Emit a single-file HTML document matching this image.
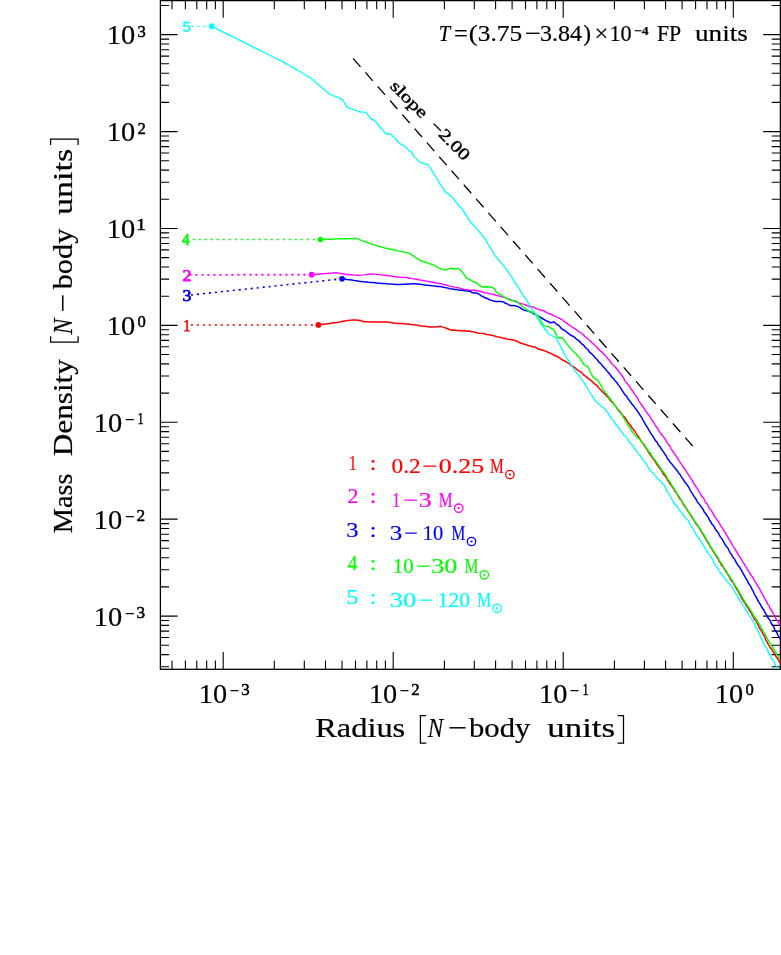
<!DOCTYPE html>
<html><head><meta charset="utf-8"><title>Mass density profile</title>
<style>html,body{margin:0;padding:0;background:#fff;}body{width:781px;height:955px;overflow:hidden;font-family:"Liberation Serif",serif;}svg{display:block;will-change:transform;}</style></head>
<body>
<svg width="781" height="955" viewBox="0 0 781 955">
<rect x="0" y="0" width="781" height="955" fill="#fff"/>
<defs><clipPath id="cp"><rect x="160.4" y="0.6" width="620.0" height="668.7"/></clipPath></defs>
<g stroke="#000" stroke-width="1.1" fill="none">
<rect x="160.4" y="0.6" width="620.0" height="668.7" stroke-width="1.3"/>
<path d="M172.0,669.3 v-8.7 M172.0,0.6 v8.7"/>
<path d="M185.4,669.3 v-8.7 M185.4,0.6 v8.7"/>
<path d="M196.8,669.3 v-8.7 M196.8,0.6 v8.7"/>
<path d="M206.7,669.3 v-8.7 M206.7,0.6 v8.7"/>
<path d="M215.4,669.3 v-8.7 M215.4,0.6 v8.7"/>
<path d="M223.2,669.3 v-17.2 M223.2,0.6 v17.2"/>
<path d="M274.3,669.3 v-8.7 M274.3,0.6 v8.7"/>
<path d="M304.3,669.3 v-8.7 M304.3,0.6 v8.7"/>
<path d="M325.5,669.3 v-8.7 M325.5,0.6 v8.7"/>
<path d="M342.0,669.3 v-8.7 M342.0,0.6 v8.7"/>
<path d="M355.5,669.3 v-8.7 M355.5,0.6 v8.7"/>
<path d="M366.9,669.3 v-8.7 M366.9,0.6 v8.7"/>
<path d="M376.7,669.3 v-8.7 M376.7,0.6 v8.7"/>
<path d="M385.4,669.3 v-8.7 M385.4,0.6 v8.7"/>
<path d="M393.2,669.3 v-17.2 M393.2,0.6 v17.2"/>
<path d="M444.4,669.3 v-8.7 M444.4,0.6 v8.7"/>
<path d="M474.3,669.3 v-8.7 M474.3,0.6 v8.7"/>
<path d="M495.6,669.3 v-8.7 M495.6,0.6 v8.7"/>
<path d="M512.1,669.3 v-8.7 M512.1,0.6 v8.7"/>
<path d="M525.5,669.3 v-8.7 M525.5,0.6 v8.7"/>
<path d="M536.9,669.3 v-8.7 M536.9,0.6 v8.7"/>
<path d="M546.8,669.3 v-8.7 M546.8,0.6 v8.7"/>
<path d="M555.5,669.3 v-8.7 M555.5,0.6 v8.7"/>
<path d="M563.2,669.3 v-17.2 M563.2,0.6 v17.2"/>
<path d="M614.4,669.3 v-8.7 M614.4,0.6 v8.7"/>
<path d="M644.4,669.3 v-8.7 M644.4,0.6 v8.7"/>
<path d="M665.6,669.3 v-8.7 M665.6,0.6 v8.7"/>
<path d="M682.1,669.3 v-8.7 M682.1,0.6 v8.7"/>
<path d="M695.6,669.3 v-8.7 M695.6,0.6 v8.7"/>
<path d="M707.0,669.3 v-8.7 M707.0,0.6 v8.7"/>
<path d="M716.8,669.3 v-8.7 M716.8,0.6 v8.7"/>
<path d="M725.5,669.3 v-8.7 M725.5,0.6 v8.7"/>
<path d="M733.3,669.3 v-17.2 M733.3,0.6 v17.2"/>
<path d="M160.4,666.7 h8.7 M780.4,666.7 h-8.7"/>
<path d="M160.4,654.6 h8.7 M780.4,654.6 h-8.7"/>
<path d="M160.4,645.2 h8.7 M780.4,645.2 h-8.7"/>
<path d="M160.4,637.5 h8.7 M780.4,637.5 h-8.7"/>
<path d="M160.4,631.1 h8.7 M780.4,631.1 h-8.7"/>
<path d="M160.4,625.4 h8.7 M780.4,625.4 h-8.7"/>
<path d="M160.4,620.5 h8.7 M780.4,620.5 h-8.7"/>
<path d="M160.4,616.1 h17.2 M780.4,616.1 h-17.2"/>
<path d="M160.4,586.9 h8.7 M780.4,586.9 h-8.7"/>
<path d="M160.4,569.8 h8.7 M780.4,569.8 h-8.7"/>
<path d="M160.4,557.7 h8.7 M780.4,557.7 h-8.7"/>
<path d="M160.4,548.3 h8.7 M780.4,548.3 h-8.7"/>
<path d="M160.4,540.6 h8.7 M780.4,540.6 h-8.7"/>
<path d="M160.4,534.2 h8.7 M780.4,534.2 h-8.7"/>
<path d="M160.4,528.5 h8.7 M780.4,528.5 h-8.7"/>
<path d="M160.4,523.6 h8.7 M780.4,523.6 h-8.7"/>
<path d="M160.4,519.1 h17.2 M780.4,519.1 h-17.2"/>
<path d="M160.4,490.0 h8.7 M780.4,490.0 h-8.7"/>
<path d="M160.4,472.9 h8.7 M780.4,472.9 h-8.7"/>
<path d="M160.4,460.8 h8.7 M780.4,460.8 h-8.7"/>
<path d="M160.4,451.4 h8.7 M780.4,451.4 h-8.7"/>
<path d="M160.4,443.7 h8.7 M780.4,443.7 h-8.7"/>
<path d="M160.4,437.3 h8.7 M780.4,437.3 h-8.7"/>
<path d="M160.4,431.6 h8.7 M780.4,431.6 h-8.7"/>
<path d="M160.4,426.7 h8.7 M780.4,426.7 h-8.7"/>
<path d="M160.4,422.2 h17.2 M780.4,422.2 h-17.2"/>
<path d="M160.4,393.1 h8.7 M780.4,393.1 h-8.7"/>
<path d="M160.4,376.0 h8.7 M780.4,376.0 h-8.7"/>
<path d="M160.4,363.9 h8.7 M780.4,363.9 h-8.7"/>
<path d="M160.4,354.5 h8.7 M780.4,354.5 h-8.7"/>
<path d="M160.4,346.8 h8.7 M780.4,346.8 h-8.7"/>
<path d="M160.4,340.4 h8.7 M780.4,340.4 h-8.7"/>
<path d="M160.4,334.7 h8.7 M780.4,334.7 h-8.7"/>
<path d="M160.4,329.8 h8.7 M780.4,329.8 h-8.7"/>
<path d="M160.4,325.4 h17.2 M780.4,325.4 h-17.2"/>
<path d="M160.4,296.2 h8.7 M780.4,296.2 h-8.7"/>
<path d="M160.4,279.1 h8.7 M780.4,279.1 h-8.7"/>
<path d="M160.4,267.0 h8.7 M780.4,267.0 h-8.7"/>
<path d="M160.4,257.6 h8.7 M780.4,257.6 h-8.7"/>
<path d="M160.4,249.9 h8.7 M780.4,249.9 h-8.7"/>
<path d="M160.4,243.5 h8.7 M780.4,243.5 h-8.7"/>
<path d="M160.4,237.8 h8.7 M780.4,237.8 h-8.7"/>
<path d="M160.4,232.9 h8.7 M780.4,232.9 h-8.7"/>
<path d="M160.4,228.5 h17.2 M780.4,228.5 h-17.2"/>
<path d="M160.4,199.3 h8.7 M780.4,199.3 h-8.7"/>
<path d="M160.4,182.2 h8.7 M780.4,182.2 h-8.7"/>
<path d="M160.4,170.1 h8.7 M780.4,170.1 h-8.7"/>
<path d="M160.4,160.7 h8.7 M780.4,160.7 h-8.7"/>
<path d="M160.4,153.0 h8.7 M780.4,153.0 h-8.7"/>
<path d="M160.4,146.6 h8.7 M780.4,146.6 h-8.7"/>
<path d="M160.4,140.9 h8.7 M780.4,140.9 h-8.7"/>
<path d="M160.4,136.0 h8.7 M780.4,136.0 h-8.7"/>
<path d="M160.4,131.6 h17.2 M780.4,131.6 h-17.2"/>
<path d="M160.4,102.4 h8.7 M780.4,102.4 h-8.7"/>
<path d="M160.4,85.3 h8.7 M780.4,85.3 h-8.7"/>
<path d="M160.4,73.2 h8.7 M780.4,73.2 h-8.7"/>
<path d="M160.4,63.8 h8.7 M780.4,63.8 h-8.7"/>
<path d="M160.4,56.1 h8.7 M780.4,56.1 h-8.7"/>
<path d="M160.4,49.7 h8.7 M780.4,49.7 h-8.7"/>
<path d="M160.4,44.0 h8.7 M780.4,44.0 h-8.7"/>
<path d="M160.4,39.1 h8.7 M780.4,39.1 h-8.7"/>
<path d="M160.4,34.6 h17.2 M780.4,34.6 h-17.2"/>
<path d="M160.4,5.5 h8.7 M780.4,5.5 h-8.7"/>
</g>
<g clip-path="url(#cp)" fill="none" stroke-linejoin="round" stroke-linecap="butt">
<path d="M318.4,324.9 L320.7,324.6 L323.0,324.3 L325.3,324.0 L327.6,323.7 L330.0,323.4 L332.3,323.1 L334.6,322.8 L336.9,322.5 L339.4,322.0 L342.0,321.4 L344.6,320.9 L347.1,320.4 L349.8,320.3 L352.6,320.1 L355.3,320.0 L357.9,320.2 L360.5,320.4 L363.5,321.8 L365.8,321.8 L368.0,321.8 L370.3,321.9 L372.5,321.9 L374.8,321.9 L377.1,321.9 L379.3,321.9 L381.6,322.0 L383.8,322.0 L386.1,322.0 L388.6,322.3 L391.0,322.6 L393.5,322.9 L395.9,323.2 L398.4,323.5 L400.9,323.6 L403.5,323.8 L406.1,324.0 L408.6,324.1 L411.2,324.5 L413.8,324.8 L416.3,325.1 L418.9,325.5 L421.4,325.9 L424.0,326.2 L426.6,326.6 L429.1,327.0 L431.6,326.9 L434.0,326.9 L436.5,326.8 L438.9,326.6 L441.4,326.6 L443.9,327.4 L446.4,328.2 L449.1,329.3 L451.6,330.2 L454.1,330.1 L456.9,330.4 L459.4,330.5 L461.8,330.9 L464.6,330.6 L467.0,331.3 L469.4,331.1 L472.1,331.7 L474.5,332.0 L476.9,332.7 L479.3,333.2 L481.6,333.5 L484.1,333.5 L486.7,334.5 L489.2,334.7 L491.7,335.2 L494.0,335.9 L496.7,336.8 L499.1,336.9 L501.5,337.8 L504.0,338.2 L506.0,338.8 L508.2,339.4 L510.7,339.4 L513.0,340.0 L515.0,340.5 L517.2,341.2 L519.3,342.5 L521.3,343.3 L523.6,343.9 L525.7,344.5 L528.1,345.5 L530.0,345.9 L532.5,346.7 L535.0,347.1 L537.6,348.5 L539.7,349.5 L542.3,350.0 L544.4,350.8 L546.4,351.4 L548.3,352.5 L550.6,353.3 L552.4,354.2 L554.6,355.5 L556.8,356.5 L558.7,357.4 L560.9,358.9 L563.0,360.3 L564.8,361.0 L566.9,362.3 L569.1,363.6 L570.8,365.6 L572.9,366.4 L575.1,367.9 L577.0,369.7 L579.2,371.1 L580.9,372.0 L582.7,373.7 L584.6,375.6 L586.3,376.6 L587.8,378.1 L589.9,379.7 L591.5,380.7 L593.4,382.8 L595.0,384.1 L596.8,385.6 L598.3,387.3 L600.1,389.2 L601.8,391.1 L603.8,393.0 L605.3,394.4 L607.1,396.4 L609.1,398.2 L610.4,400.6 L612.2,402.2 L614.0,404.3 L615.4,406.1 L617.3,408.4 L618.6,410.0 L620.0,411.6 L621.6,413.7 L623.1,416.1 L625.0,417.3 L626.3,419.6 L627.5,421.6 L628.8,423.5 L630.6,425.4 L631.9,427.7 L633.1,429.1 L634.6,430.9 L636.0,433.2 L637.1,434.9 L638.6,437.0 L640.0,439.1 L641.2,441.0 L642.4,442.8 L643.5,444.2 L644.5,446.1 L645.9,447.7 L647.3,449.7 L648.4,452.2 L649.9,454.0 L650.9,455.5 L652.2,457.8 L653.4,459.0 L654.7,460.9 L656.3,463.2 L657.5,465.3 L658.9,467.0 L660.1,468.8 L661.4,470.3 L662.7,472.9 L663.8,474.6 L665.2,476.0 L666.5,478.0 L667.5,480.4 L669.0,481.7 L669.9,483.9 L671.2,485.2 L672.7,487.8 L674.0,489.0 L675.1,491.6 L676.3,493.0 L677.6,494.8 L678.5,496.5 L680.1,499.2 L681.4,500.7 L682.6,502.6 L683.5,504.9 L684.8,506.3 L686.2,508.2 L687.3,510.2 L688.6,512.3 L690.0,513.8 L691.0,515.9 L692.5,518.0 L693.7,519.7 L694.8,521.7 L695.8,523.5 L697.1,525.3 L698.6,526.8 L699.7,528.8 L700.9,531.0 L702.2,533.2 L703.4,534.9 L704.7,537.1 L705.8,538.8 L706.9,540.9 L708.3,543.4 L709.6,545.3 L710.7,547.6 L712.0,549.4 L713.2,551.3 L714.5,553.3 L715.7,555.2 L717.1,557.2 L718.3,559.4 L719.2,561.5 L720.8,563.2 L721.6,565.4 L723.0,566.7 L724.2,568.6 L725.5,571.0 L726.8,572.6 L728.2,575.2 L729.3,576.6 L730.3,579.0 L731.9,581.2 L733.1,582.6 L734.2,584.7 L735.4,586.8 L736.8,589.4 L737.9,590.9 L739.1,593.4 L740.3,595.3 L741.4,598.0 L742.9,600.0 L744.0,602.0 L745.2,603.4 L746.4,605.9 L747.8,607.3 L749.0,609.8 L749.8,611.1 L751.3,613.0 L752.1,615.1 L753.7,617.2 L754.5,619.5 L756.0,620.8 L757.0,623.0 L758.2,625.2 L759.0,626.8 L760.3,629.5 L761.6,631.0 L762.6,633.6 L763.8,635.2 L764.9,637.3 L765.7,639.8 L767.1,641.9 L768.0,644.0 L769.1,645.7 L770.4,647.8 L771.6,649.3 L772.8,651.1 L774.1,653.2 L775.3,655.5 L776.5,657.2 L777.7,658.9 L778.9,660.7 L780.4,662.8 L781.7,665.1 L783.0,667.0" stroke="#ff0000" stroke-width="1.5"/>
<path d="M311.7,274.7 L313.9,274.5 L316.1,274.3 L318.3,274.2 L320.5,274.0 L322.7,273.8 L324.9,273.6 L327.1,273.4 L329.3,273.2 L331.5,273.1 L333.7,272.9 L335.9,272.7 L338.2,273.1 L340.5,273.5 L342.8,273.9 L345.1,274.3 L347.6,274.5 L350.0,274.7 L352.5,274.9 L354.9,275.1 L357.4,275.3 L360.4,275.1 L363.5,274.9 L366.2,274.6 L369.0,274.2 L371.7,273.9 L374.3,274.1 L376.9,274.4 L379.4,274.6 L382.0,274.9 L384.3,275.2 L386.6,275.5 L388.9,275.8 L391.2,276.1 L393.5,276.5 L395.8,276.8 L398.1,277.1 L400.4,277.4 L402.9,277.4 L405.5,277.4 L407.7,277.8 L409.9,278.2 L412.1,278.6 L414.2,278.9 L416.4,279.3 L418.6,279.7 L420.8,280.1 L423.0,280.5 L425.4,280.9 L427.9,281.4 L430.3,281.8 L432.7,282.2 L435.1,282.7 L437.6,283.1 L440.0,283.5 L442.5,284.1 L445.0,284.8 L447.4,285.3 L449.9,286.1 L452.3,286.6 L454.7,287.1 L457.1,287.5 L459.8,288.1 L462.0,288.8 L464.6,289.6 L467.2,289.5 L469.6,290.4 L471.9,290.1 L474.4,290.3 L476.9,290.7 L479.3,291.0 L482.0,291.7 L484.3,292.9 L486.9,292.9 L489.2,293.7 L491.6,294.1 L494.1,294.5 L496.6,295.5 L499.0,295.9 L501.5,296.8 L503.9,297.2 L506.4,298.1 L508.7,298.8 L511.2,299.9 L513.8,300.9 L516.3,301.8 L518.8,302.8 L521.4,303.6 L523.6,304.1 L526.1,305.0 L528.4,306.3 L531.1,306.8 L533.6,307.0 L536.0,308.6 L538.4,309.1 L541.0,310.3 L543.3,310.7 L545.9,312.0 L548.3,313.3 L550.6,314.0 L552.8,315.1 L554.7,316.2 L556.4,316.9 L558.6,317.8 L560.7,319.2 L562.9,320.2 L564.9,322.0 L567.0,323.4 L568.7,324.6 L571.0,326.0 L573.2,327.7 L575.1,328.8 L576.9,330.3 L579.0,331.8 L581.2,333.0 L582.9,334.2 L584.6,336.3 L586.7,337.8 L588.2,339.2 L590.1,340.7 L591.8,342.5 L593.5,343.8 L595.1,345.7 L596.9,347.0 L598.7,349.3 L600.3,350.9 L602.2,352.2 L604.1,354.5 L605.8,356.1 L607.2,358.1 L608.9,359.7 L610.2,361.5 L611.8,363.7 L613.7,365.5 L615.0,366.5 L616.8,369.0 L618.1,370.5 L619.4,372.4 L621.0,374.1 L622.2,376.0 L623.6,377.9 L624.8,380.6 L626.3,382.4 L627.8,384.4 L629.2,385.7 L630.4,387.9 L631.4,389.7 L632.9,391.1 L634.0,393.4 L635.2,394.9 L636.7,396.9 L637.9,398.5 L638.8,401.1 L640.3,403.0 L641.4,404.8 L642.7,406.3 L643.9,408.0 L645.2,410.4 L646.4,411.7 L647.4,413.5 L649.0,415.2 L650.3,417.2 L651.2,419.0 L652.4,421.1 L654.0,422.8 L655.0,424.8 L656.5,427.0 L657.9,428.7 L659.0,430.9 L660.1,432.6 L661.7,434.5 L663.1,436.4 L664.2,437.9 L665.7,440.0 L666.9,442.4 L668.3,444.1 L669.8,446.0 L670.9,448.6 L672.2,450.4 L673.6,452.4 L674.8,454.1 L676.3,456.4 L677.7,458.0 L678.6,460.1 L680.2,462.3 L681.1,463.7 L682.3,465.3 L683.5,467.3 L684.8,469.0 L686.3,471.2 L687.3,473.2 L688.6,474.8 L689.8,476.7 L691.0,478.6 L692.2,480.3 L693.4,483.0 L694.8,484.6 L695.9,486.8 L697.1,488.2 L698.4,490.3 L699.8,492.8 L700.9,494.3 L701.9,496.6 L703.5,497.8 L704.6,500.5 L705.6,502.2 L707.2,504.0 L708.4,506.3 L709.4,508.4 L710.6,509.5 L712.1,511.9 L713.2,513.8 L714.5,516.1 L715.8,517.8 L716.9,519.6 L718.2,521.1 L719.5,523.3 L720.5,525.6 L721.7,527.0 L723.1,529.4 L724.1,530.9 L725.5,533.2 L726.8,535.3 L727.8,537.2 L729.0,539.4 L730.4,541.2 L731.7,543.9 L732.9,545.8 L734.0,547.3 L735.4,550.0 L736.4,551.5 L737.8,553.7 L739.1,555.6 L740.2,557.5 L741.7,559.7 L742.5,561.3 L743.9,563.3 L745.0,565.6 L746.5,567.6 L747.5,569.3 L748.8,571.7 L750.1,573.2 L751.1,575.4 L752.5,576.8 L753.7,578.8 L754.5,580.9 L755.8,582.6 L757.2,584.9 L758.1,586.4 L759.5,588.4 L760.4,590.6 L761.5,592.6 L762.9,594.9 L764.4,598.0 L765.5,600.0 L766.9,602.2 L767.7,604.3 L769.1,605.6 L769.9,608.1 L771.2,610.0 L772.3,611.7 L773.3,613.5 L774.6,615.6 L775.6,618.1 L776.8,620.1 L778.3,621.5 L779.2,623.9 L780.4,625.6 L781.7,627.4 L783.0,630.0" stroke="#ff00ff" stroke-width="1.4"/>
<path d="M342.0,278.8 L344.4,279.1 L346.9,279.5 L349.3,279.8 L351.8,280.1 L354.2,280.5 L356.6,280.8 L359.1,281.2 L361.5,281.5 L363.8,281.7 L366.1,281.9 L368.3,282.2 L370.6,282.4 L372.9,282.6 L375.2,282.8 L377.4,283.1 L379.7,283.3 L382.0,283.5 L384.3,283.6 L386.7,283.8 L389.0,283.9 L391.4,284.1 L393.7,284.2 L396.1,284.4 L398.4,284.5 L400.7,284.4 L403.1,284.3 L405.4,284.2 L407.8,284.0 L410.1,283.9 L412.5,283.8 L414.8,283.7 L417.2,284.0 L419.7,284.3 L422.1,284.6 L424.6,284.9 L427.0,285.2 L429.6,285.5 L432.2,285.8 L434.8,286.0 L437.4,286.4 L440.0,286.6 L442.5,287.1 L444.8,287.6 L447.3,287.9 L449.8,288.7 L452.3,289.0 L454.9,289.5 L457.2,289.6 L459.7,290.3 L462.2,290.2 L464.6,290.7 L467.0,291.0 L469.6,291.2 L472.0,292.5 L474.2,293.0 L476.9,293.1 L478.9,294.0 L481.2,295.9 L482.9,296.5 L485.1,297.8 L487.2,298.5 L489.3,299.7 L491.7,300.4 L493.7,300.9 L496.3,301.4 L498.5,301.5 L501.0,301.5 L503.5,301.9 L505.4,303.3 L507.7,304.0 L509.7,305.4 L512.2,305.6 L515.2,305.8 L517.9,306.6 L520.1,307.6 L522.2,309.3 L524.0,310.1 L526.5,310.8 L529.5,311.5 L532.2,312.8 L534.2,314.1 L536.2,314.8 L538.3,316.2 L540.2,317.2 L542.4,318.5 L544.1,319.5 L546.3,320.8 L548.4,321.7 L550.5,322.7 L554.2,321.9 L555.8,323.6 L557.5,324.7 L559.5,326.1 L561.0,328.1 L562.8,329.5 L565.1,330.7 L566.8,332.2 L569.0,333.8 L570.8,335.3 L573.0,336.2 L574.9,337.6 L576.6,339.4 L578.1,340.1 L579.7,341.6 L581.6,343.8 L583.3,344.8 L584.8,346.9 L586.4,348.5 L588.0,349.6 L589.3,351.9 L591.0,353.3 L592.5,354.6 L593.9,356.2 L595.6,358.2 L597.3,359.8 L598.9,362.1 L600.6,363.4 L602.3,365.8 L604.0,367.4 L605.8,369.4 L607.4,371.6 L608.7,372.8 L610.4,375.0 L611.8,377.1 L613.6,378.6 L614.9,380.7 L616.8,382.5 L618.1,384.6 L619.5,386.4 L620.8,388.4 L622.4,390.8 L623.4,392.4 L624.8,394.7 L626.5,396.0 L627.7,398.4 L629.3,400.3 L630.7,402.2 L631.9,404.1 L633.5,405.7 L635.1,408.2 L636.4,409.6 L637.8,411.8 L639.2,413.8 L640.4,415.7 L642.0,418.2 L643.0,420.0 L644.5,422.8 L645.6,424.7 L646.7,426.4 L648.4,429.1 L649.2,430.7 L650.7,433.2 L652.1,435.1 L653.3,436.8 L654.4,439.0 L655.7,440.9 L657.3,442.5 L658.3,444.8 L659.7,446.1 L661.0,448.3 L662.2,450.3 L663.5,451.9 L665.0,454.4 L666.2,455.7 L667.2,458.3 L668.7,460.0 L670.0,462.2 L671.8,464.0 L673.2,465.9 L674.8,467.7 L676.3,469.7 L677.7,471.4 L678.8,473.3 L680.2,474.7 L681.3,476.9 L682.9,478.9 L683.9,480.5 L685.1,482.3 L686.6,484.1 L687.8,485.8 L689.1,487.8 L690.2,490.3 L691.5,492.4 L693.1,494.6 L694.0,496.4 L695.5,498.5 L696.8,500.5 L697.9,502.8 L699.6,504.6 L700.8,506.4 L702.2,507.9 L703.4,510.1 L704.4,512.3 L706.0,514.1 L707.1,515.8 L708.3,517.4 L709.4,519.9 L710.7,522.0 L711.9,523.9 L713.4,525.6 L714.4,527.2 L715.6,529.5 L716.8,531.0 L718.4,533.0 L719.4,535.3 L720.8,537.4 L722.0,538.9 L723.1,540.8 L724.3,543.2 L725.6,545.4 L727.0,547.1 L728.2,548.6 L729.2,551.0 L730.4,553.1 L731.7,554.8 L733.0,557.3 L734.4,558.7 L735.4,560.9 L736.6,563.2 L738.0,565.3 L739.6,567.2 L740.7,569.1 L741.9,571.1 L742.8,573.0 L744.0,574.8 L745.3,577.4 L746.7,579.3 L747.5,581.0 L748.6,583.6 L749.8,585.0 L751.0,587.2 L752.2,589.6 L753.3,591.4 L754.2,593.8 L755.4,596.0 L756.6,597.6 L757.5,600.0 L758.5,601.7 L759.9,603.6 L761.2,606.2 L762.1,607.8 L763.5,609.4 L764.6,611.8 L765.8,613.9 L767.0,615.7 L768.2,618.1 L769.4,619.4 L770.4,621.2 L771.3,623.4 L772.7,625.1 L773.7,627.0 L774.7,629.8 L776.0,631.1 L777.1,633.3 L778.0,635.6 L779.2,637.1 L780.4,639.2 L781.9,641.2 L783.0,644.0" stroke="#0000ff" stroke-width="1.5"/>
<path d="M320.5,239.5 L322.7,239.4 L325.0,239.4 L327.2,239.3 L329.5,239.2 L331.7,239.2 L334.0,239.1 L336.2,239.0 L338.4,238.9 L340.7,238.9 L342.9,238.8 L345.2,238.7 L347.4,238.7 L349.7,238.6 L351.9,238.5 L354.2,238.5 L356.4,238.4 L358.6,239.2 L360.8,240.1 L363.0,240.9 L365.1,241.7 L367.3,242.5 L369.5,243.4 L371.7,244.2 L374.1,244.9 L376.5,245.6 L378.9,246.2 L381.3,246.9 L383.7,247.6 L386.1,248.3 L388.5,248.8 L390.8,249.3 L393.2,249.8 L395.5,250.3 L397.9,250.9 L400.2,251.4 L402.6,251.9 L404.9,252.4 L407.2,252.9 L409.6,253.4 L411.5,254.7 L413.4,255.9 L415.2,257.2 L417.1,258.5 L419.0,259.7 L420.9,261.0 L423.4,261.7 L425.8,262.5 L428.3,263.2 L430.7,264.0 L433.2,264.7 L435.5,265.9 L437.7,267.3 L440.0,268.5 L442.9,269.4 L445.8,270.2 L448.3,269.0 L451.0,268.1 L454.0,269.2 L456.1,268.7 L458.4,268.5 L461.5,271.2 L463.3,273.3 L465.0,275.9 L466.6,278.0 L468.5,279.2 L470.7,280.0 L472.8,281.3 L474.8,282.0 L476.9,283.0 L478.8,284.9 L480.7,286.1 L483.0,287.0 L485.3,286.7 L488.0,287.0 L490.2,286.6 L493.7,288.2 L495.2,290.3 L496.8,292.2 L498.4,293.7 L501.0,294.8 L503.3,296.6 L505.6,297.8 L508.4,299.3 L510.7,300.5 L513.4,300.7 L515.8,300.9 L518.0,302.8 L520.0,304.2 L522.0,306.0 L523.9,307.8 L526.1,309.1 L528.1,311.1 L532.0,312.5 L534.3,313.3 L535.9,314.6 L538.2,316.1 L539.7,318.1 L540.6,320.6 L541.8,322.7 L543.3,325.4 L545.9,326.1 L548.4,326.4 L550.4,327.9 L552.3,328.7 L554.2,330.5 L555.5,332.8 L556.7,335.6 L557.7,337.7 L561.8,337.7 L563.5,339.2 L565.1,341.8 L566.3,342.9 L567.7,344.8 L569.6,347.3 L571.0,348.9 L572.8,350.7 L574.2,352.3 L575.7,353.5 L577.4,355.7 L579.2,357.1 L580.7,359.3 L582.1,361.5 L583.7,364.3 L587.4,366.4 L588.7,368.4 L589.8,370.8 L591.1,373.5 L592.3,375.7 L593.5,377.6 L597.2,379.7 L598.4,381.2 L599.8,383.4 L601.0,385.3 L602.0,387.3 L603.2,389.5 L604.4,391.4 L605.8,393.0 L607.0,394.4 L608.7,397.0 L609.9,398.2 L611.4,400.5 L612.6,402.1 L614.0,404.3 L615.4,405.9 L616.8,407.7 L617.7,409.5 L619.1,411.6 L620.5,412.9 L621.9,414.6 L623.1,417.0 L624.3,418.6 L625.5,420.8 L626.8,422.6 L627.9,425.1 L629.2,427.1 L630.6,428.6 L632.0,431.3 L633.4,432.8 L634.5,435.0 L636.5,436.4 L638.6,438.4 L640.5,440.0 L642.0,442.2 L643.2,443.7 L644.9,445.5 L646.2,447.8 L647.5,449.3 L648.9,451.8 L650.3,453.1 L651.7,455.4 L652.9,457.7 L654.3,459.0 L656.0,461.4 L657.0,462.8 L658.5,464.8 L659.7,467.0 L661.1,468.8 L662.7,471.3 L664.0,472.8 L665.4,474.4 L666.4,476.3 L667.8,479.1 L668.9,480.8 L670.2,482.3 L671.2,484.1 L672.4,486.3 L674.0,488.3 L675.1,490.5 L676.3,492.3 L677.5,494.4 L678.8,495.9 L680.1,498.0 L681.2,500.4 L682.6,502.1 L683.6,503.9 L685.1,506.1 L686.2,508.1 L687.5,510.1 L688.6,511.7 L689.8,513.7 L691.1,515.2 L692.3,516.9 L693.6,519.4 L694.6,521.1 L696.0,522.7 L697.2,524.8 L698.6,526.7 L699.7,528.1 L700.9,530.2 L702.1,532.5 L703.6,534.3 L704.6,535.9 L705.9,538.1 L707.1,540.8 L708.3,542.1 L709.6,544.6 L710.8,546.6 L712.0,548.9 L713.2,550.7 L714.6,552.6 L715.7,554.3 L717.0,556.4 L718.3,558.1 L719.2,560.3 L720.5,562.1 L721.8,563.8 L723.1,566.1 L724.2,568.0 L725.5,570.1 L726.9,571.9 L728.1,574.6 L729.5,576.0 L730.5,578.2 L732.1,580.0 L733.3,582.7 L734.5,584.4 L735.8,586.5 L737.2,588.2 L738.2,590.2 L739.5,592.6 L740.4,594.2 L741.5,596.2 L742.8,598.4 L744.0,600.0 L745.1,602.2 L746.3,603.7 L747.5,605.7 L749.0,607.2 L750.0,609.4 L751.3,611.3 L752.6,613.4 L753.7,615.5 L755.1,617.6 L756.3,618.8 L757.5,621.4 L758.6,623.0 L759.9,624.8 L760.7,627.3 L762.3,628.9 L763.2,631.5 L764.3,633.1 L765.7,635.4 L766.6,637.6 L768.1,640.2 L769.1,641.9 L770.5,643.6 L771.7,646.1 L773.0,648.2 L774.3,650.3 L775.5,651.8 L776.7,654.1 L778.1,656.1 L779.0,658.2 L780.4,660.2 L781.5,661.9 L783.0,664.0" stroke="#00ff00" stroke-width="1.4"/>
<path d="M211.8,26.4 L213.8,27.4 L215.8,28.4 L217.7,29.4 L219.7,30.3 L221.7,31.3 L223.7,32.3 L225.6,33.3 L227.6,34.3 L229.6,35.3 L231.6,36.3 L233.6,37.2 L235.5,38.2 L237.5,39.2 L239.5,40.2 L241.5,41.2 L243.4,42.2 L245.4,43.2 L247.4,44.1 L249.4,45.1 L251.4,46.1 L253.3,47.1 L255.3,48.1 L257.3,49.1 L259.3,50.1 L261.2,51.1 L263.2,52.0 L265.2,53.0 L267.2,54.0 L269.2,55.0 L271.1,56.0 L273.1,57.0 L275.1,58.0 L277.1,58.9 L279.0,59.9 L281.0,60.9 L283.0,61.9 L285.1,63.1 L287.2,64.3 L289.4,65.5 L291.5,66.7 L293.6,67.9 L295.8,69.1 L297.9,70.3 L300.0,71.5 L302.1,72.8 L304.2,74.0 L306.2,75.3 L308.3,76.5 L310.4,77.8 L312.3,79.4 L314.2,81.1 L316.2,82.7 L318.1,84.4 L320.0,86.0 L321.7,87.5 L323.5,89.0 L325.2,90.6 L327.0,92.1 L328.7,93.6 L330.9,94.5 L333.1,95.5 L335.4,96.4 L337.6,97.3 L339.8,98.3 L342.0,99.2 L343.4,101.2 L344.8,103.3 L346.1,105.4 L347.5,107.4 L349.7,108.2 L351.8,109.0 L354.0,109.8 L356.2,110.5 L358.3,111.3 L360.5,112.1 L363.2,112.1 L366.0,112.1 L367.6,114.3 L369.1,116.4 L370.7,118.6 L372.8,119.7 L374.8,120.7 L376.4,122.6 L378.0,124.5 L379.6,126.4 L381.3,128.3 L382.9,130.2 L384.5,132.1 L386.1,134.0 L390.2,133.6 L391.9,135.3 L393.6,137.0 L395.3,138.8 L397.0,140.5 L398.7,142.2 L400.4,143.9 L402.9,145.3 L405.5,146.7 L407.6,149.1 L409.6,151.4 L411.7,152.0 L412.7,154.1 L413.7,156.1 L415.8,158.1 L417.8,160.1 L419.9,162.1 L422.4,162.8 L425.0,163.6 L427.5,164.3 L429.1,166.5 L430.6,168.7 L432.2,170.9 L433.4,172.9 L434.6,175.0 L435.9,177.0 L437.1,179.0 L438.3,181.1 L439.5,183.1 L440.8,185.0 L442.0,186.8 L443.3,188.8 L444.6,190.6 L445.9,192.4 L447.8,193.6 L449.8,195.2 L451.6,196.5 L453.3,198.3 L454.7,200.3 L456.1,202.4 L457.9,204.2 L459.5,205.8 L460.9,207.7 L462.5,209.7 L464.0,211.8 L465.2,213.6 L466.6,215.8 L467.9,218.2 L469.3,220.2 L470.7,222.0 L472.1,223.7 L473.9,225.4 L475.3,227.3 L476.5,228.7 L478.1,230.4 L479.7,232.4 L481.1,233.6 L482.5,236.0 L484.0,237.4 L485.2,239.0 L486.4,241.0 L487.8,243.9 L489.2,245.7 L490.3,248.0 L491.6,249.8 L492.8,251.9 L493.9,253.9 L495.3,255.8 L496.8,257.7 L498.1,259.6 L499.5,260.8 L501.4,263.1 L502.6,264.7 L504.3,266.6 L505.6,268.1 L506.7,270.0 L508.0,271.6 L509.3,273.5 L510.7,275.6 L511.8,276.9 L512.8,278.8 L514.2,281.3 L515.4,283.3 L516.6,284.3 L517.9,286.6 L519.4,288.7 L520.4,291.1 L521.5,292.7 L522.9,294.9 L524.1,296.5 L525.6,298.5 L527.0,300.6 L528.1,303.0 L529.5,304.5 L530.4,306.5 L531.8,308.9 L533.1,310.8 L534.5,312.5 L535.8,314.2 L537.0,316.9 L537.8,319.0 L539.3,320.9 L540.5,322.9 L541.5,325.0 L543.3,326.6 L544.5,328.9 L546.4,330.1 L547.7,332.7 L549.5,334.3 L552.0,335.7 L554.4,337.1 L556.6,339.0 L557.4,341.0 L558.7,342.9 L559.8,344.9 L560.9,346.7 L561.8,348.9 L562.8,351.0 L563.9,353.2 L565.3,355.0 L566.4,357.5 L567.4,359.2 L568.9,360.8 L570.0,363.4 L571.0,365.3 L572.4,367.0 L573.9,369.4 L575.0,370.9 L576.6,372.5 L577.9,374.3 L579.4,376.3 L580.5,378.3 L581.8,379.4 L583.3,381.7 L584.6,383.6 L585.9,385.9 L587.1,387.1 L588.4,389.8 L589.3,391.5 L590.8,393.7 L592.1,395.5 L593.0,397.2 L594.5,399.3 L595.6,401.2 L597.4,402.4 L598.9,404.5 L600.8,405.7 L602.3,407.0 L604.2,408.3 L605.8,410.0 L607.1,412.1 L608.5,413.3 L609.5,415.8 L611.1,417.5 L612.2,419.6 L613.6,421.1 L614.7,422.7 L616.1,424.8 L617.7,426.5 L619.2,428.6 L620.8,430.6 L622.1,432.3 L623.8,435.0 L625.5,436.2 L627.0,438.5 L628.3,440.6 L629.8,442.3 L631.1,444.2 L633.0,445.6 L634.2,448.2 L635.6,449.8 L637.1,451.9 L638.7,453.9 L640.0,455.4 L641.5,457.5 L642.3,458.9 L643.7,460.7 L644.9,462.4 L646.6,464.7 L647.9,466.4 L648.7,468.7 L650.2,470.2 L651.5,472.0 L653.3,473.3 L654.7,475.1 L656.4,477.0 L657.7,478.7 L659.2,480.1 L661.1,482.2 L662.2,483.2 L664.0,485.1 L665.1,486.9 L666.5,489.6 L667.2,491.5 L668.7,493.5 L669.9,495.5 L670.7,497.0 L672.2,499.6 L673.1,501.6 L674.3,503.5 L676.0,505.5 L677.3,507.0 L678.7,509.1 L680.3,511.2 L681.8,512.9 L683.3,515.2 L684.9,517.2 L686.6,518.9 L688.0,520.4 L689.3,522.5 L690.5,525.1 L691.5,526.4 L692.9,528.3 L694.0,530.9 L695.1,532.5 L696.4,534.8 L697.5,536.6 L698.9,538.4 L700.0,540.2 L701.5,542.7 L702.9,544.2 L704.0,546.4 L705.2,548.3 L706.5,551.0 L707.8,552.5 L709.1,554.8 L710.6,556.7 L711.9,558.5 L713.1,560.5 L714.1,563.1 L715.4,565.0 L716.7,566.8 L718.3,568.9 L719.4,571.1 L721.1,573.5 L722.4,574.6 L723.8,577.2 L725.5,579.0 L726.9,581.2 L728.6,582.9 L729.9,584.3 L731.7,586.5 L732.9,588.7 L734.0,590.1 L735.0,592.7 L736.1,594.3 L737.5,595.9 L738.4,598.3 L739.7,600.0 L740.7,601.5 L742.1,603.9 L743.2,605.5 L744.7,607.8 L745.9,609.9 L746.9,611.2 L748.2,613.6 L749.3,615.5 L750.7,617.5 L752.1,619.5 L753.0,621.1 L754.4,623.0 L755.3,625.5 L756.2,627.5 L757.3,629.0 L758.0,631.3 L759.1,633.4 L760.0,635.2 L760.9,637.7 L762.0,639.5 L762.8,641.9 L764.1,644.1 L765.1,645.7 L766.2,647.7 L767.3,649.3 L768.2,652.1 L769.3,653.7 L770.2,655.6 L771.4,658.0 L772.4,659.2 L773.8,661.2 L774.6,663.0 L775.7,665.6 L777.0,666.9 L778.0,669.3 L779.5,671.7 L781.0,674.0" stroke="#00ffff" stroke-width="1.3"/>
<path d="M353.1,58.4 L692.8,446.2" stroke="#000" stroke-width="1.3" stroke-dasharray="11.2 7.47"/>
</g>
<path d="M192.7,239.5 L320.5,239.5" stroke="#00ff00" stroke-width="1.40" stroke-dasharray="2.1 3.9" fill="none"/>
<circle cx="320.5" cy="239.5" r="2.85" fill="#00ff00"/>
<path d="M189.4,274.9 L311.7,274.7" stroke="#ff00ff" stroke-width="1.90" stroke-dasharray="2.1 3.9" fill="none"/>
<circle cx="311.7" cy="274.7" r="2.85" fill="#ff00ff"/>
<path d="M191.0,295.0 L342.0,278.8" stroke="#0000ff" stroke-width="1.60" stroke-dasharray="2.1 3.9" fill="none"/>
<circle cx="342.0" cy="278.8" r="2.85" fill="#0000ff"/>
<path d="M190.8,324.9 L318.4,324.9" stroke="#ff0000" stroke-width="1.50" stroke-dasharray="2.1 3.9" fill="none"/>
<circle cx="318.4" cy="324.9" r="2.85" fill="#ff0000"/>
<path d="M191.4,26.4 L211.8,26.2" stroke="#00ffff" stroke-width="1.15" stroke-dasharray="2.1 3.9" fill="none"/>
<circle cx="211.8" cy="26.2" r="2.85" fill="#00ffff"/>
<text x="106.78" y="44.35" font-size="26.8" font-family="Liberation Serif, serif" fill="#000" stroke="#000" stroke-width="0.20" textLength="28.45" lengthAdjust="spacingAndGlyphs">10</text>
<text x="137.50" y="36.65" font-size="16" font-family="Liberation Serif, serif" fill="#000" stroke="#000" stroke-width="0.50" textLength="8.30" lengthAdjust="spacingAndGlyphs">3</text>
<text x="106.78" y="141.25" font-size="26.8" font-family="Liberation Serif, serif" fill="#000" stroke="#000" stroke-width="0.20" textLength="28.45" lengthAdjust="spacingAndGlyphs">10</text>
<text x="137.50" y="133.55" font-size="16" font-family="Liberation Serif, serif" fill="#000" stroke="#000" stroke-width="0.50" textLength="8.30" lengthAdjust="spacingAndGlyphs">2</text>
<text x="106.78" y="238.15" font-size="26.8" font-family="Liberation Serif, serif" fill="#000" stroke="#000" stroke-width="0.20" textLength="28.45" lengthAdjust="spacingAndGlyphs">10</text>
<text x="136.31" y="230.45" font-size="16" font-family="Liberation Serif, serif" fill="#000" stroke="#000" stroke-width="0.50" textLength="9.49" lengthAdjust="spacingAndGlyphs">1</text>
<text x="106.78" y="335.05" font-size="26.8" font-family="Liberation Serif, serif" fill="#000" stroke="#000" stroke-width="0.20" textLength="28.45" lengthAdjust="spacingAndGlyphs">10</text>
<text x="137.50" y="327.35" font-size="16" font-family="Liberation Serif, serif" fill="#000" stroke="#000" stroke-width="0.50" textLength="8.30" lengthAdjust="spacingAndGlyphs">0</text>
<text x="93.88" y="431.95" font-size="26.8" font-family="Liberation Serif, serif" fill="#000" stroke="#000" stroke-width="0.20" textLength="28.45" lengthAdjust="spacingAndGlyphs">10</text>
<text x="125.30" y="424.95" font-size="16" font-family="Liberation Serif, serif" fill="#000" stroke="#000" stroke-width="0.50" textLength="9.12" lengthAdjust="spacingAndGlyphs">−</text>
<text x="137.80" y="424.25" font-size="16" font-family="Liberation Serif, serif" fill="#000" stroke="#000" stroke-width="0.50" textLength="5.60" lengthAdjust="spacingAndGlyphs">1</text>
<text x="93.88" y="528.85" font-size="26.8" font-family="Liberation Serif, serif" fill="#000" stroke="#000" stroke-width="0.20" textLength="28.45" lengthAdjust="spacingAndGlyphs">10</text>
<text x="125.30" y="521.85" font-size="16" font-family="Liberation Serif, serif" fill="#000" stroke="#000" stroke-width="0.50" textLength="9.12" lengthAdjust="spacingAndGlyphs">−</text>
<text x="136.60" y="521.15" font-size="16" font-family="Liberation Serif, serif" fill="#000" stroke="#000" stroke-width="0.50" textLength="8.60" lengthAdjust="spacingAndGlyphs">2</text>
<text x="93.88" y="625.75" font-size="26.8" font-family="Liberation Serif, serif" fill="#000" stroke="#000" stroke-width="0.20" textLength="28.45" lengthAdjust="spacingAndGlyphs">10</text>
<text x="125.30" y="618.75" font-size="16" font-family="Liberation Serif, serif" fill="#000" stroke="#000" stroke-width="0.50" textLength="9.12" lengthAdjust="spacingAndGlyphs">−</text>
<text x="136.60" y="618.05" font-size="16" font-family="Liberation Serif, serif" fill="#000" stroke="#000" stroke-width="0.50" textLength="8.60" lengthAdjust="spacingAndGlyphs">3</text>
<text x="198.89" y="702.80" font-size="26.8" font-family="Liberation Serif, serif" fill="#000" stroke="#000" stroke-width="0.20" textLength="28.34" lengthAdjust="spacingAndGlyphs">10</text>
<text x="230.00" y="695.80" font-size="16" font-family="Liberation Serif, serif" fill="#000" stroke="#000" stroke-width="0.50" textLength="8.92" lengthAdjust="spacingAndGlyphs">−</text>
<text x="241.20" y="695.10" font-size="16" font-family="Liberation Serif, serif" fill="#000" stroke="#000" stroke-width="0.50" textLength="8.40" lengthAdjust="spacingAndGlyphs">3</text>
<text x="368.94" y="702.80" font-size="26.8" font-family="Liberation Serif, serif" fill="#000" stroke="#000" stroke-width="0.20" textLength="28.34" lengthAdjust="spacingAndGlyphs">10</text>
<text x="400.05" y="695.80" font-size="16" font-family="Liberation Serif, serif" fill="#000" stroke="#000" stroke-width="0.50" textLength="8.92" lengthAdjust="spacingAndGlyphs">−</text>
<text x="411.25" y="695.10" font-size="16" font-family="Liberation Serif, serif" fill="#000" stroke="#000" stroke-width="0.50" textLength="8.40" lengthAdjust="spacingAndGlyphs">2</text>
<text x="538.99" y="702.80" font-size="26.8" font-family="Liberation Serif, serif" fill="#000" stroke="#000" stroke-width="0.20" textLength="28.34" lengthAdjust="spacingAndGlyphs">10</text>
<text x="570.10" y="695.80" font-size="16" font-family="Liberation Serif, serif" fill="#000" stroke="#000" stroke-width="0.50" textLength="8.92" lengthAdjust="spacingAndGlyphs">−</text>
<text x="582.70" y="695.10" font-size="16" font-family="Liberation Serif, serif" fill="#000" stroke="#000" stroke-width="0.50" textLength="5.60" lengthAdjust="spacingAndGlyphs">1</text>
<text x="714.79" y="702.80" font-size="26.8" font-family="Liberation Serif, serif" fill="#000" stroke="#000" stroke-width="0.20" textLength="28.34" lengthAdjust="spacingAndGlyphs">10</text>
<text x="745.40" y="695.10" font-size="16" font-family="Liberation Serif, serif" fill="#000" stroke="#000" stroke-width="0.50" textLength="8.30" lengthAdjust="spacingAndGlyphs">0</text>
<text x="315.20" y="737.30" font-size="27.3" font-family="Liberation Serif, serif" fill="#000" stroke="#000" stroke-width="0.20" textLength="90.04" lengthAdjust="spacingAndGlyphs">Radius</text>
<path d="M426.3,715.7 H420.4 V743.2 H426.3" fill="none" stroke="#000" stroke-width="1.25"/>
<text x="427.65" y="737.30" font-size="27.3" font-family="Liberation Serif, serif" fill="#000" stroke="#000" stroke-width="0.20" textLength="15.43" lengthAdjust="spacingAndGlyphs" font-style="italic">N</text>
<text x="448.06" y="737.30" font-size="27.3" font-family="Liberation Serif, serif" fill="#000" stroke="#000" stroke-width="0.20" textLength="19.13" lengthAdjust="spacingAndGlyphs">−</text>
<text x="469.00" y="737.30" font-size="27.3" font-family="Liberation Serif, serif" fill="#000" stroke="#000" stroke-width="0.20" textLength="61.31" lengthAdjust="spacingAndGlyphs">body</text>
<text x="547.30" y="737.30" font-size="27.3" font-family="Liberation Serif, serif" fill="#000" stroke="#000" stroke-width="0.20" textLength="67.80" lengthAdjust="spacingAndGlyphs">units</text>
<path d="M617.6,715.7 H623.5 V743.2 H617.6" fill="none" stroke="#000" stroke-width="1.25"/>
<g transform="translate(72.2,533.2) rotate(-90)">
<text x="0.00" y="0.00" font-size="27.3" font-family="Liberation Serif, serif" fill="#000" stroke="#000" stroke-width="0.20" textLength="59.85" lengthAdjust="spacingAndGlyphs">Mass</text>
<text x="77.00" y="0.00" font-size="27.3" font-family="Liberation Serif, serif" fill="#000" stroke="#000" stroke-width="0.20" textLength="97.00" lengthAdjust="spacingAndGlyphs">Density</text>
<path d="M197.0,-21.6 H191.1 V5.9 H197.0" fill="none" stroke="#000" stroke-width="1.25"/>
<text x="198.68" y="0.00" font-size="27.3" font-family="Liberation Serif, serif" fill="#000" stroke="#000" stroke-width="0.20" textLength="15.95" lengthAdjust="spacingAndGlyphs" font-style="italic">N</text>
<text x="220.79" y="0.00" font-size="27.3" font-family="Liberation Serif, serif" fill="#000" stroke="#000" stroke-width="0.20" textLength="18.69" lengthAdjust="spacingAndGlyphs">−</text>
<text x="243.90" y="0.00" font-size="27.3" font-family="Liberation Serif, serif" fill="#000" stroke="#000" stroke-width="0.20" textLength="60.61" lengthAdjust="spacingAndGlyphs">body</text>
<text x="318.30" y="0.00" font-size="27.3" font-family="Liberation Serif, serif" fill="#000" stroke="#000" stroke-width="0.20" textLength="66.18" lengthAdjust="spacingAndGlyphs">units</text>
<path d="M388.3,-21.6 H394.2 V5.9 H388.3" fill="none" stroke="#000" stroke-width="1.25"/>
</g>
<text x="438.71" y="41.40" font-size="23.3" font-family="Liberation Serif, serif" fill="#000" stroke="#000" stroke-width="0.20" textLength="11.48" lengthAdjust="spacingAndGlyphs" font-style="italic">T</text>
<text x="454.05" y="41.40" font-size="23.3" font-family="Liberation Serif, serif" fill="#000" stroke="#000" stroke-width="0.20" textLength="13.86" lengthAdjust="spacingAndGlyphs">=</text>
<text x="468.83" y="41.40" font-size="23.3" font-family="Liberation Serif, serif" fill="#000" stroke="#000" stroke-width="0.20" textLength="9.05" lengthAdjust="spacingAndGlyphs">(</text>
<text x="477.71" y="41.40" font-size="23.3" font-family="Liberation Serif, serif" fill="#000" stroke="#000" stroke-width="0.20" textLength="44.40" lengthAdjust="spacingAndGlyphs">3.75</text>
<text x="524.77" y="41.40" font-size="23.3" font-family="Liberation Serif, serif" fill="#000" stroke="#000" stroke-width="0.20" textLength="16.12" lengthAdjust="spacingAndGlyphs">−</text>
<text x="539.97" y="41.40" font-size="23.3" font-family="Liberation Serif, serif" fill="#000" stroke="#000" stroke-width="0.20" textLength="42.07" lengthAdjust="spacingAndGlyphs">3.84</text>
<text x="583.20" y="41.40" font-size="23.3" font-family="Liberation Serif, serif" fill="#000" stroke="#000" stroke-width="0.20" textLength="7.76" lengthAdjust="spacingAndGlyphs">)</text>
<text x="594.55" y="41.40" font-size="23.3" font-family="Liberation Serif, serif" fill="#000" stroke="#000" stroke-width="0.20" textLength="13.86" lengthAdjust="spacingAndGlyphs">×</text>
<text x="609.49" y="41.40" font-size="23.3" font-family="Liberation Serif, serif" fill="#000" stroke="#000" stroke-width="0.20" textLength="22.23" lengthAdjust="spacingAndGlyphs">10</text>
<text x="634.00" y="34.50" font-size="12.5" font-family="Liberation Serif, serif" fill="#000" stroke="#000" stroke-width="0.20" textLength="14.68" lengthAdjust="spacingAndGlyphs" font-weight="bold">−4</text>
<text x="656.90" y="41.40" font-size="23.3" font-family="Liberation Serif, serif" fill="#000" stroke="#000" stroke-width="0.20" textLength="24.26" lengthAdjust="spacingAndGlyphs">FP</text>
<text x="694.90" y="41.40" font-size="23.3" font-family="Liberation Serif, serif" fill="#000" stroke="#000" stroke-width="0.20" textLength="52.98" lengthAdjust="spacingAndGlyphs">units</text>
<g transform="translate(389.3,87.0) rotate(45)">
<text x="0.00" y="0.00" font-size="16.5" font-family="Liberation Serif, serif" fill="#000" stroke="#000" stroke-width="0.45" textLength="45.42" lengthAdjust="spacingAndGlyphs">slope</text>
<text x="56.50" y="0.00" font-size="16.5" font-family="Liberation Serif, serif" fill="#000" stroke="#000" stroke-width="0.45" textLength="48.82" lengthAdjust="spacingAndGlyphs">−2.00</text>
</g>
<text x="182.55" y="32.00" font-size="15.5" font-family="Liberation Sans, sans-serif" fill="#00ffff" stroke="#00ffff" stroke-width="0.30" textLength="8.46" lengthAdjust="spacingAndGlyphs">5</text>
<text x="182.00" y="245.00" font-size="16.8" font-family="Liberation Serif, serif" fill="#00ff00" stroke="#00ff00" stroke-width="0.75" textLength="7.74" lengthAdjust="spacingAndGlyphs">4</text>
<text x="182.60" y="280.70" font-size="16.8" font-family="Liberation Serif, serif" fill="#ff00ff" stroke="#ff00ff" stroke-width="0.75" textLength="8.92" lengthAdjust="spacingAndGlyphs">2</text>
<text x="182.60" y="300.90" font-size="16.8" font-family="Liberation Serif, serif" fill="#0000ff" stroke="#0000ff" stroke-width="0.75" textLength="8.92" lengthAdjust="spacingAndGlyphs">3</text>
<text x="183.41" y="330.60" font-size="16.8" font-family="Liberation Serif, serif" fill="#ff0000" stroke="#ff0000" stroke-width="0.75" textLength="6.65" lengthAdjust="spacingAndGlyphs">1</text>
<text x="348.84" y="470.00" font-size="21" font-family="Liberation Serif, serif" fill="#ff0000" stroke="#ff0000" stroke-width="0.20" textLength="7.93" lengthAdjust="spacingAndGlyphs">1</text>
<text x="369.85" y="470.00" font-size="21" font-family="Liberation Serif, serif" fill="#ff0000" stroke="#ff0000" stroke-width="0.20" textLength="6.71" lengthAdjust="spacingAndGlyphs">:</text>
<text x="391.50" y="473.00" font-size="21" font-family="Liberation Serif, serif" fill="#ff0000" stroke="#ff0000" stroke-width="0.20" textLength="29.16" lengthAdjust="spacingAndGlyphs">0.2</text>
<text x="422.22" y="473.00" font-size="21" font-family="Liberation Serif, serif" fill="#ff0000" stroke="#ff0000" stroke-width="0.20" textLength="15.16" lengthAdjust="spacingAndGlyphs">−</text>
<text x="438.80" y="473.00" font-size="21" font-family="Liberation Serif, serif" fill="#ff0000" stroke="#ff0000" stroke-width="0.20" textLength="45.42" lengthAdjust="spacingAndGlyphs">0.25</text>
<text x="490.00" y="473.00" font-size="21" font-family="Liberation Serif, serif" fill="#ff0000" stroke="#ff0000" stroke-width="0.20" textLength="13.76" lengthAdjust="spacingAndGlyphs">M</text>
<circle cx="509.9" cy="474.6" r="4.2" fill="none" stroke="#ff0000" stroke-width="1.3"/>
<circle cx="509.9" cy="474.6" r="1.1" fill="#ff0000"/>
<text x="347.40" y="503.00" font-size="21" font-family="Liberation Serif, serif" fill="#ff00ff" stroke="#ff00ff" stroke-width="0.20" textLength="11.03" lengthAdjust="spacingAndGlyphs">2</text>
<text x="369.85" y="503.00" font-size="21" font-family="Liberation Serif, serif" fill="#ff00ff" stroke="#ff00ff" stroke-width="0.20" textLength="6.71" lengthAdjust="spacingAndGlyphs">:</text>
<text x="392.34" y="506.60" font-size="21" font-family="Liberation Serif, serif" fill="#ff00ff" stroke="#ff00ff" stroke-width="0.20" textLength="7.93" lengthAdjust="spacingAndGlyphs">1</text>
<text x="403.02" y="506.60" font-size="21" font-family="Liberation Serif, serif" fill="#ff00ff" stroke="#ff00ff" stroke-width="0.20" textLength="15.16" lengthAdjust="spacingAndGlyphs">−</text>
<text x="418.87" y="506.60" font-size="21" font-family="Liberation Serif, serif" fill="#ff00ff" stroke="#ff00ff" stroke-width="0.20" textLength="12.95" lengthAdjust="spacingAndGlyphs">3</text>
<text x="438.80" y="506.60" font-size="21" font-family="Liberation Serif, serif" fill="#ff00ff" stroke="#ff00ff" stroke-width="0.20" textLength="13.76" lengthAdjust="spacingAndGlyphs">M</text>
<circle cx="458.7" cy="508.2" r="4.2" fill="none" stroke="#ff00ff" stroke-width="1.3"/>
<circle cx="458.7" cy="508.2" r="1.1" fill="#ff00ff"/>
<text x="346.23" y="536.60" font-size="21" font-family="Liberation Serif, serif" fill="#0000ff" stroke="#0000ff" stroke-width="0.20" textLength="12.25" lengthAdjust="spacingAndGlyphs">3</text>
<text x="369.85" y="536.60" font-size="21" font-family="Liberation Serif, serif" fill="#0000ff" stroke="#0000ff" stroke-width="0.20" textLength="6.71" lengthAdjust="spacingAndGlyphs">:</text>
<text x="389.81" y="539.90" font-size="21" font-family="Liberation Serif, serif" fill="#0000ff" stroke="#0000ff" stroke-width="0.20" textLength="12.48" lengthAdjust="spacingAndGlyphs">3</text>
<text x="404.35" y="539.90" font-size="21" font-family="Liberation Serif, serif" fill="#0000ff" stroke="#0000ff" stroke-width="0.20" textLength="13.62" lengthAdjust="spacingAndGlyphs">−</text>
<text x="422.73" y="539.90" font-size="21" font-family="Liberation Serif, serif" fill="#0000ff" stroke="#0000ff" stroke-width="0.20" textLength="20.46" lengthAdjust="spacingAndGlyphs">10</text>
<text x="451.60" y="539.90" font-size="21" font-family="Liberation Serif, serif" fill="#0000ff" stroke="#0000ff" stroke-width="0.20" textLength="13.76" lengthAdjust="spacingAndGlyphs">M</text>
<circle cx="471.5" cy="541.5" r="4.2" fill="none" stroke="#0000ff" stroke-width="1.3"/>
<circle cx="471.5" cy="541.5" r="1.1" fill="#0000ff"/>
<text x="347.40" y="570.30" font-size="21" font-family="Liberation Serif, serif" fill="#00ff00" stroke="#00ff00" stroke-width="0.20" textLength="10.02" lengthAdjust="spacingAndGlyphs">4</text>
<text x="369.85" y="570.30" font-size="21" font-family="Liberation Serif, serif" fill="#00ff00" stroke="#00ff00" stroke-width="0.20" textLength="6.71" lengthAdjust="spacingAndGlyphs">:</text>
<text x="392.70" y="573.20" font-size="21" font-family="Liberation Serif, serif" fill="#00ff00" stroke="#00ff00" stroke-width="0.20" textLength="21.00" lengthAdjust="spacingAndGlyphs">10</text>
<text x="415.82" y="573.20" font-size="21" font-family="Liberation Serif, serif" fill="#00ff00" stroke="#00ff00" stroke-width="0.20" textLength="15.16" lengthAdjust="spacingAndGlyphs">−</text>
<text x="431.15" y="573.20" font-size="21" font-family="Liberation Serif, serif" fill="#00ff00" stroke="#00ff00" stroke-width="0.20" textLength="26.17" lengthAdjust="spacingAndGlyphs">30</text>
<text x="464.40" y="573.20" font-size="21" font-family="Liberation Serif, serif" fill="#00ff00" stroke="#00ff00" stroke-width="0.20" textLength="13.76" lengthAdjust="spacingAndGlyphs">M</text>
<circle cx="484.3" cy="574.8" r="4.2" fill="none" stroke="#00ff00" stroke-width="1.3"/>
<circle cx="484.3" cy="574.8" r="1.1" fill="#00ff00"/>
<text x="346.23" y="603.80" font-size="21" font-family="Liberation Serif, serif" fill="#00ffff" stroke="#00ffff" stroke-width="0.20" textLength="12.25" lengthAdjust="spacingAndGlyphs">5</text>
<text x="369.85" y="603.80" font-size="21" font-family="Liberation Serif, serif" fill="#00ffff" stroke="#00ffff" stroke-width="0.20" textLength="6.71" lengthAdjust="spacingAndGlyphs">:</text>
<text x="389.73" y="606.70" font-size="21" font-family="Liberation Serif, serif" fill="#00ffff" stroke="#00ffff" stroke-width="0.20" textLength="26.71" lengthAdjust="spacingAndGlyphs">30</text>
<text x="418.32" y="606.70" font-size="21" font-family="Liberation Serif, serif" fill="#00ffff" stroke="#00ffff" stroke-width="0.20" textLength="15.16" lengthAdjust="spacingAndGlyphs">−</text>
<text x="437.57" y="606.70" font-size="21" font-family="Liberation Serif, serif" fill="#00ffff" stroke="#00ffff" stroke-width="0.20" textLength="32.55" lengthAdjust="spacingAndGlyphs">120</text>
<text x="477.20" y="606.70" font-size="21" font-family="Liberation Serif, serif" fill="#00ffff" stroke="#00ffff" stroke-width="0.20" textLength="13.76" lengthAdjust="spacingAndGlyphs">M</text>
<circle cx="497.1" cy="608.3" r="4.2" fill="none" stroke="#00ffff" stroke-width="1.3"/>
<circle cx="497.1" cy="608.3" r="1.1" fill="#00ffff"/>
</svg>
</body></html>
